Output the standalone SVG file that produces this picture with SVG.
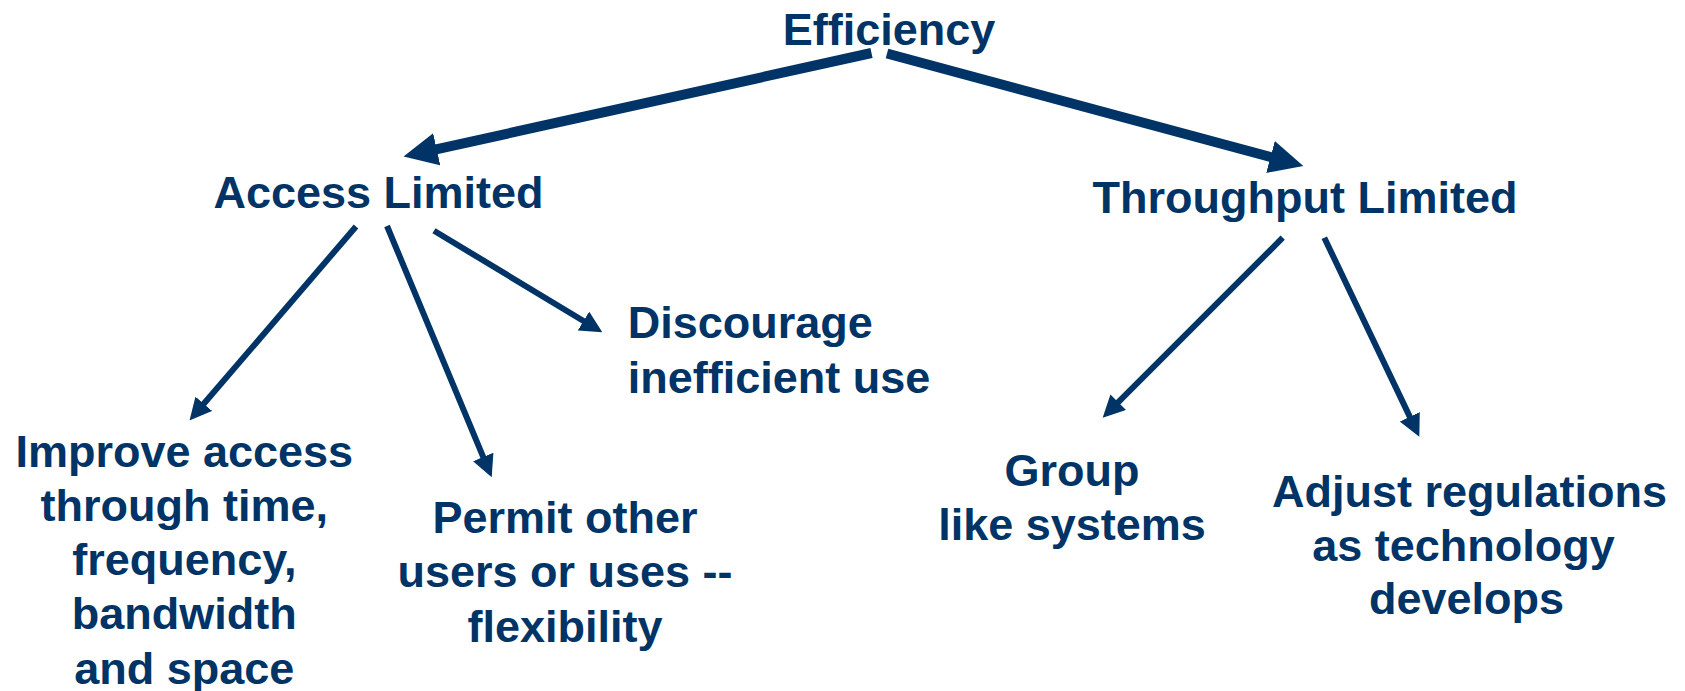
<svg xmlns="http://www.w3.org/2000/svg" width="1685" height="691" viewBox="0 0 1685 691">
  <style>
    text { font-family: "Liberation Sans", Arial, sans-serif; font-weight: bold; fill: #003366; font-size: 45px; }
    .c { text-anchor: middle; }
    .thin { stroke: #003366; stroke-width: 6; fill: none; }
    .thick { stroke: #003366; stroke-width: 10; fill: none; }
  </style>
  <defs>
    <marker id="headThin" markerUnits="userSpaceOnUse" viewBox="0 -11 22 22" markerWidth="22" markerHeight="22" refX="2" refY="0" orient="auto">
      <path d="M0,-11 L22,0 L0,11 z" fill="#003366"/>
    </marker>
    <marker id="headThick" markerUnits="userSpaceOnUse" viewBox="0 -16.5 34 33" markerWidth="34" markerHeight="33" refX="3" refY="0" orient="auto">
      <path d="M0,-16.5 L34,0 L0,16.5 z" fill="#003366"/>
    </marker>
  </defs>
  <rect width="1685" height="691" fill="#ffffff"/>
  <g id="connectors">
    <line class="thick" x1="871.5" y1="53" x2="433.8" y2="149.9" marker-end="url(#headThick)"/>
    <line class="thick" x1="887" y1="53.5" x2="1273.4" y2="157.8" marker-end="url(#headThick)"/>
    <line class="thin" x1="356" y1="226.5" x2="202.5" y2="405.3" marker-end="url(#headThin)"/>
    <line class="thin" x1="387" y1="226" x2="484.0" y2="458.8" marker-end="url(#headThin)"/>
    <line class="thin" x1="434" y1="230.7" x2="585.2" y2="322.0" marker-end="url(#headThin)"/>
    <line class="thin" x1="1282.7" y1="237.7" x2="1116.8" y2="403.6" marker-end="url(#headThin)"/>
    <line class="thin" x1="1324.3" y1="237.7" x2="1410.7" y2="418.65" marker-end="url(#headThin)"/>
  </g>
  <g id="efficiency">
    <text class="c" x="889" y="45">Efficiency</text>
  </g>
  <g id="access-limited">
    <text class="c" x="378.5" y="207.5">Access Limited</text>
  </g>
  <g id="throughput-limited">
    <text class="c" x="1305" y="212.7">Throughput Limited</text>
  </g>
  <g id="improve-access">
    <text class="c" x="184.3" y="466.7">Improve access</text>
    <text class="c" x="184.3" y="520.9">through time,</text>
    <text class="c" x="184.3" y="575.1">frequency,</text>
    <text class="c" x="184.3" y="629.3">bandwidth</text>
    <text class="c" x="184.3" y="683.5">and space</text>
  </g>
  <g id="permit-other">
    <text class="c" x="565" y="532.7">Permit other</text>
    <text class="c" x="565" y="587.3">users or uses --</text>
    <text class="c" x="565" y="642">flexibility</text>
  </g>
  <g id="discourage">
    <text x="627.7" y="338.3">Discourage</text>
    <text x="627.7" y="392.7">inefficient use</text>
  </g>
  <g id="group-like">
    <text class="c" x="1072" y="486">Group</text>
    <text class="c" x="1072" y="540">like systems</text>
  </g>
  <g id="adjust-regulations">
    <text class="c" x="1469.5" y="506.7">Adjust regulations</text>
    <text class="c" x="1463.5" y="560.5">as technology</text>
    <text class="c" x="1466.5" y="614">develops</text>
  </g>
</svg>
